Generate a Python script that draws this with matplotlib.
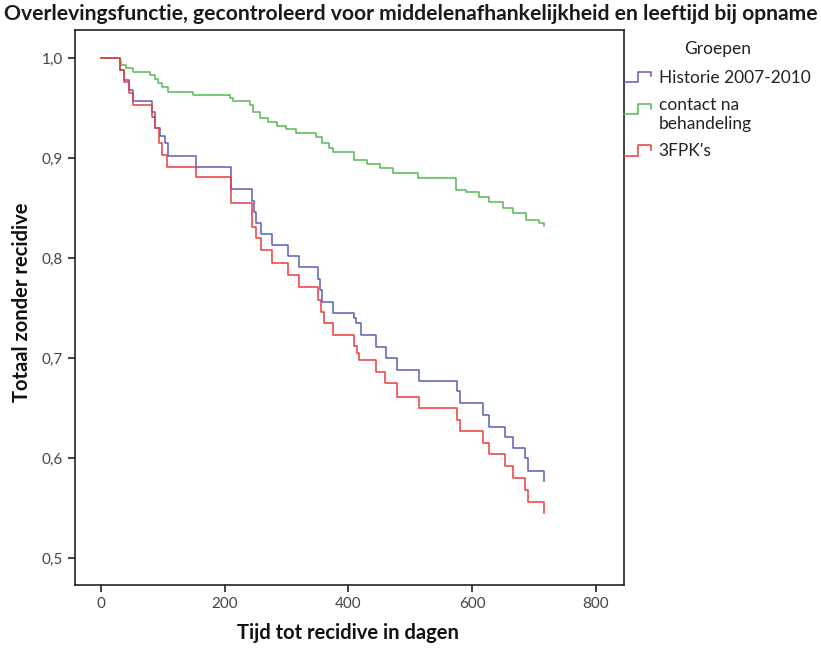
import matplotlib
matplotlib.use('Agg')
import matplotlib.pyplot as plt
from matplotlib.lines import Line2D
from matplotlib.legend_handler import HandlerBase
from matplotlib.ticker import FuncFormatter

plt.rcParams['font.family'] = ['Lato', 'DejaVu Sans']

# Kaplan-Meier stappen (dagen, cumulatieve overleving)
groups = ["Historie 2007-2010", "contact na\nbehandeling", "3FPK's"]
colors = ['#5a5fb5', '#55b955', '#ee3b3b']

hist_t = [0, 30, 37, 45, 51, 82, 88, 95, 103, 108, 153, 210, 245, 247, 251, 259,
          277, 302, 320, 351, 355, 358, 376, 410, 413, 420, 444, 461, 478, 515,
          576, 580, 618, 628, 653, 666, 685, 690, 717]
hist_s = [1.0, 0.988, 0.978, 0.968, 0.957, 0.946, 0.93, 0.922, 0.915, 0.902, 0.891,
          0.869, 0.857, 0.846, 0.835, 0.824, 0.813, 0.802, 0.791, 0.779, 0.768,
          0.756, 0.745, 0.740, 0.735, 0.723, 0.711, 0.700, 0.688, 0.677, 0.667,
          0.655, 0.643, 0.631, 0.621, 0.610, 0.600, 0.587, 0.577]

contact_t = [0, 30, 33, 40, 52, 79, 87, 92, 98, 108, 149, 208, 213, 241, 246, 257,
             270, 285, 300, 316, 348, 358, 368, 375, 410, 430, 451, 472, 512, 575,
             590, 612, 628, 650, 666, 688, 709, 717]
contact_s = [1.0, 0.997, 0.993, 0.990, 0.986, 0.983, 0.979, 0.975, 0.971, 0.966,
             0.963, 0.960, 0.957, 0.953, 0.946, 0.940, 0.936, 0.932, 0.929, 0.925,
             0.921, 0.915, 0.910, 0.906, 0.898, 0.894, 0.890, 0.885, 0.880, 0.868,
             0.866, 0.861, 0.856, 0.850, 0.845, 0.838, 0.835, 0.832]

fpk_t = [0, 30, 37, 45, 51, 82, 88, 94, 98, 106, 153, 211, 245, 251, 259, 277,
         302, 320, 351, 356, 360, 376, 410, 414, 418, 444, 460, 478, 515, 576,
         581, 618, 628, 653, 666, 685, 690, 716]
fpk_s = [1.0, 0.988, 0.976, 0.965, 0.953, 0.941, 0.93, 0.915, 0.903, 0.891, 0.881,
         0.855, 0.831, 0.820, 0.808, 0.795, 0.783, 0.771, 0.758, 0.746, 0.735,
         0.723, 0.712, 0.705, 0.698, 0.686, 0.675, 0.661, 0.650, 0.638, 0.627,
         0.615, 0.604, 0.592, 0.580, 0.568, 0.556, 0.545]

series = [(hist_t, hist_s), (contact_t, contact_s), (fpk_t, fpk_s)]


class HandlerStep(HandlerBase):
    # SPSS-achtig trapje als legendasymbool
    def __init__(self, yshift=0.0):
        super().__init__()
        self.yshift = yshift

    def create_artists(self, legend, orig_handle, xdescent, ydescent, width, height,
                       fontsize, trans):
        x0 = -xdescent
        y0 = -ydescent + self.yshift * fontsize
        xs = [x0, x0 + 0.52 * width, x0 + 0.52 * width, x0 + width, x0 + width]
        ys = [y0 + 0.0 * height, y0 + 0.0 * height, y0 + 0.95 * height,
              y0 + 0.95 * height, y0 + 0.5 * height]
        ln = Line2D(xs, ys, color=orig_handle.get_color(), lw=1.1, transform=trans)
        return [ln]


fig = plt.figure(figsize=(8.21, 6.48), dpi=100)
ax = fig.add_axes([0.0914, 0.0972, 0.6687, 0.8565])

lines = []
for (t, s), c in zip(series, colors):
    ln, = ax.step(t, s, where='post', color=c, lw=1.1)
    lines.append(ln)
lines[2].set_zorder(3)

ax.set_xlim(-42, 846)
ax.set_ylim(0.473, 1.028)
ax.set_xticks([0, 200, 400, 600, 800])
ax.set_yticks([0.5, 0.6, 0.7, 0.8, 0.9, 1.0])
ax.yaxis.set_major_formatter(FuncFormatter(lambda v, p: f"{v:.1f}".replace('.', ',')))
ax.tick_params(direction='out', length=5, width=1.2, colors='#222222',
               labelsize=11, labelcolor='#444444')
for sp in ax.spines.values():
    sp.set_linewidth(1.2)
    sp.set_color('#222222')

ax.set_xlabel('Tijd tot recidive in dagen', fontsize=14.5, fontweight='bold',
              color='#111111')
ax.set_ylabel('Totaal zonder recidive', fontsize=14.5, fontweight='bold',
              color='#111111')
ax.xaxis.set_label_coords(0.497, -0.068)
ax.yaxis.set_label_coords(-0.078, 0.51)
fig.text(0.5, 0.978, 'Overlevingsfunctie, gecontroleerd voor middelenafhankelijkheid en leeftijd bij opname',
         ha='center', va='center', fontsize=15.2, fontweight='bold', color='#1a1a1a')

hmap = {lines[0]: HandlerStep(), lines[1]: HandlerStep(yshift=0.35), lines[2]: HandlerStep()}
leg = ax.legend(lines, groups, handler_map=hmap, loc='upper left',
                bbox_to_anchor=(1.0, 0.98), frameon=False, fontsize=12.5,
                title='Groepen', title_fontsize=12.5, handlelength=1.55,
                handleheight=0.6, handletextpad=0.45, labelspacing=0.68,
                borderaxespad=0, borderpad=0)
leg.get_title().set_color('#222222')
leg._legend_box.sep = 9
for txt in leg.get_texts():
    txt.set_color('#222222')
    txt.set_linespacing(1.17)

fig.savefig('out.png', dpi=100)
